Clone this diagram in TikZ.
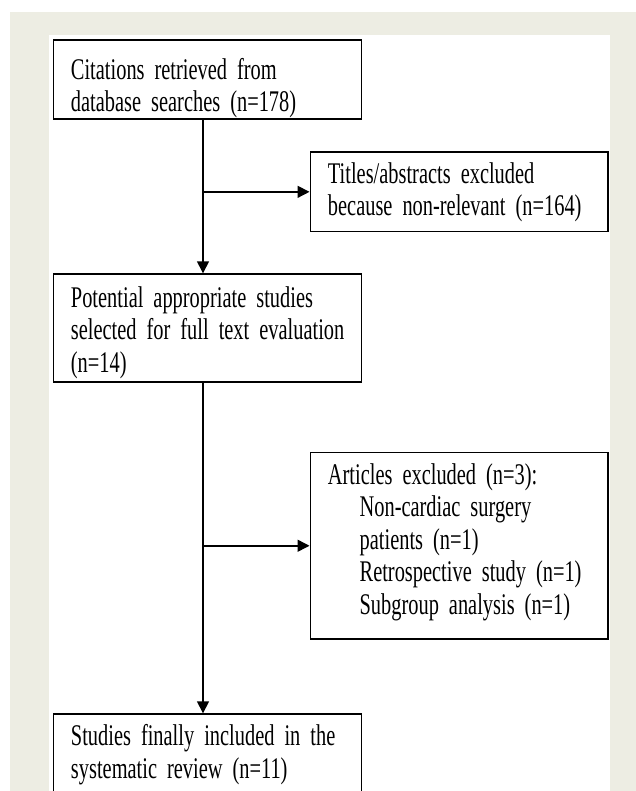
\documentclass[tikz,border=0pt]{standalone}
\usepackage{fontspec}
\setmainfont[FakeStretch=0.68]{Liberation Serif}
\usetikzlibrary{arrows.meta}
\definecolor{beige}{RGB}{237,237,227}
\newcommand{\myline}[1]{\mbox{#1}}
\newcommand{\boxfont}{\fontsize{30}{32.5}\selectfont\spaceskip=4.5pt plus 6pt minus 1pt\relax}
\tikzset{
  box/.style={draw=black, line width=1.5pt, anchor=north west, inner ysep=0pt,
    inner xsep=17.7pt, align=left, font=\boxfont},
  arr/.style={draw=black, line width=1.5pt, -{Triangle[length=12pt,width=12pt]}},
}
\begin{document}
\begin{tikzpicture}[x=1pt,y=-1pt]
\useasboundingbox (0,0) rectangle (636,791);
\clip (0,0) rectangle (636,791);
\fill[white] (0,0) rectangle (636,791);
\fill[beige] (10,12) rectangle (636,791);
\fill[white] (49,35) rectangle (610,791);

\node[box, text width=272.6pt, text height=39.1pt, text depth=40.1pt] (b1) at (52.5,39.3)
  {\myline{Citations retrieved from}\\\myline{database searches (n=178)}};
\node[box, text width=262.4pt, text height=31.2pt, text depth=48pt] (b2) at (309.5,151.5)
  {\myline{Titles/abstracts excluded}\\\myline{because non-relevant (n=164)}};
\node[box, text width=272.6pt, text height=33.4pt, text depth=74.3pt] (b3) at (52.5,273.3)
  {\myline{Potential appropriate studies}\\\myline{selected for full text evaluation}\\\myline{(n=14)}};
\node[box, text width=262.4pt, text height=31.6pt, text depth=155pt] (b4) at (309.5,451.7)
  {\myline{Articles excluded (n=3):}\\
   \myline{\hspace*{31.7pt}Non-cardiac surgery}\\
   \myline{\hspace*{31.7pt}patients (n=1)}\\
   \myline{\hspace*{31.7pt}Retrospective study (n=1)}\\
   \myline{\hspace*{31.7pt}Subgroup analysis (n=1)}};
\node[box, text width=272.6pt, text height=31.7pt, text depth=60pt] (b5) at (52.5,713.3)
  {\makebox[\linewidth][s]{Studies finally included in the}\\\myline{systematic review (n=11)}};

\coordinate (tx) at (203,0);
\draw[arr] (b1.south -| tx) -- (b3.north -| tx);
\draw[arr] (b2.west -| tx) -- (b2.west);
\draw[arr] (b3.south -| tx) -- (b5.north -| tx);
\draw[arr] (b4.west -| tx) -- (b4.west);
\end{tikzpicture}
\end{document}
